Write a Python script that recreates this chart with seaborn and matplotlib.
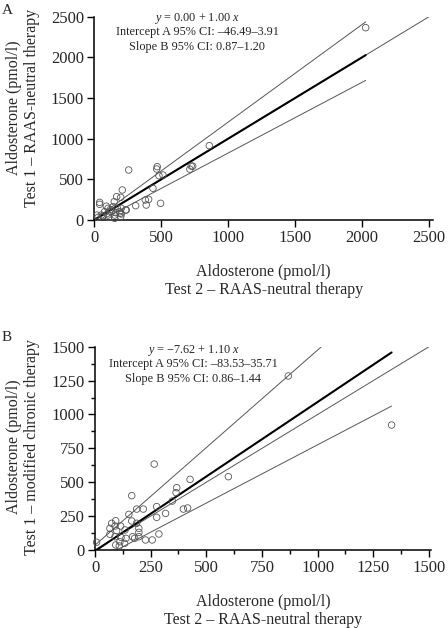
import numpy as np
import pandas as pd
import matplotlib
matplotlib.use("Agg")
import matplotlib.pyplot as plt
import seaborn as sns
from matplotlib.ticker import MultipleLocator

sns.set_theme(style="ticks")
plt.rcParams['font.family'] = ['Liberation Serif', 'DejaVu Serif']
plt.rcParams['mathtext.fontset'] = 'custom'
plt.rcParams['mathtext.rm'] = 'Liberation Serif'
plt.rcParams['mathtext.it'] = 'Liberation Serif:italic'

# ---------------- Panel A data ----------------
a_x = [2027, 859, 724, 714, 735, 470, 466, 483, 513, 257, 438, 209, 40, 40,
       197, 167, 381, 406, 388, 495, 309, 234, 197, 192, 149,
       102, 140, 172, 189, 202, 239, 77, 127, 102, 152, 65, 28, 202, 152, 107, 53,
       20, 90, 120, 160]
a_y = [2365, 914, 664, 625, 662, 656, 627, 545, 553, 615, 390, 369, 217, 193,
       279, 287, 246, 254, 184, 205, 176, 123, 41, 82, 225,
       144, 164, 144, 102, 144, 123, 102, 102, 61, 61, 49, 33, 74, 20, 33, 61,
       60, 170, 130, 90]
a_text = ["$y$ = 0.00 + 1.00 $x$",
          "Intercept A 95% CI: \u201346.49\u20133.91",
          "Slope B 95% CI: 0.87\u20131.20"]
a_reg = (0.00, 1.00)
a_ci_upper = (3.91, 1.20)
a_ci_lower = (-46.49, 0.87)
a_ticks = [0, 500, 1000, 1500, 2000, 2500]

# ---------------- Panel B data ----------------
b_x = [868, 1332, 599, 427, 367, 364, 347, 397, 416, 317, 277, 277, 287, 257, 227,
       266, 165, 217, 187, 152, 165, 187, 197, 197, 197, 169, 139, 93, 75, 67, 90,
       115, 135, 97, 67, 90, 117, 112, 93, 109, 7, 133, 178]
b_y = [1284, 922, 541, 521, 460, 423, 361, 302, 310, 270, 320, 241, 118, 74, 74,
       634, 401, 302, 302, 263, 214, 197, 160, 130, 98, 98, 86, 216, 197, 160, 177,
       177, 148, 143, 116, 98, 93, 61, 37, 30, 57, 49, 86]
b_text = ["$y$ = \u22127.62 + 1.10 $x$",
          "Intercept A 95% CI: \u201383.53\u201335.71",
          "Slope B 95% CI: 0.86\u20131.44"]
b_reg = (-7.62, 1.10)
b_ci_upper = (35.71, 1.44)
b_ci_lower = (-83.53, 0.86)
b_ticks = [0, 250, 500, 750, 1000, 1250, 1500]

xlab = "Aldosterone (pmol/l)\nTest 2 \u2013 RAAS-neutral therapy"
ylab_a = ["Aldosterone (pmol/l)", "Test 1 \u2013 RAAS-neutral therapy"]
ylab_b = ["Aldosterone (pmol/l)", "Test 1 \u2013 modified chronic therapy"]

W, H = 448, 628
fig = plt.figure(figsize=(W / 100, H / 100), dpi=100)

def px_axes(l, r, top, bot):
    return fig.add_axes([l / W, 1 - bot / H, (r - l) / W, (bot - top) / H])

axA = px_axes(94.3, 433, 16.7, 220)
axB = px_axes(95, 431, 346.7, 550)

def draw(ax, xs, ys, reg, up, lo, ticks, minor, xmax_lim, texts, tx, ty, ylab, ly):
    df = pd.DataFrame({"x": xs, "y": ys})
    lim = ticks[-1]
    xmax = max(xs)
    ident = pd.DataFrame({"x": [0, lim], "y": [0, lim]})
    sns.lineplot(data=ident, x="x", y="y", ax=ax, color="#555555", lw=0.7)
    for (a, b) in (up, lo):
        d = pd.DataFrame({"x": [0, xmax], "y": [a, a + b * xmax]})
        sns.lineplot(data=d, x="x", y="y", ax=ax, color="#555555", lw=0.7)
    d = pd.DataFrame({"x": [0, xmax], "y": [reg[0], reg[0] + reg[1] * xmax]})
    sns.lineplot(data=d, x="x", y="y", ax=ax, color="black", lw=1.5)
    sns.scatterplot(data=df, x="x", y="y", ax=ax, marker="o", s=22,
                    facecolor="none", edgecolor="#555555", linewidth=0.6,
                    clip_on=False, zorder=3)
    ax.set_xlim(0, xmax_lim)
    ax.set_ylim(0, lim)
    ax.set_xticks(ticks)
    ax.set_yticks(ticks)
    if minor:
        ax.xaxis.set_minor_locator(MultipleLocator(minor))
        ax.yaxis.set_minor_locator(MultipleLocator(minor))
    ax.tick_params(which="major", direction="out", length=5, width=1.0,
                   labelsize=12, color="black", pad=2.5)
    ax.tick_params(which="minor", direction="out", length=3, width=1.0, color="black")
    for s in ("top", "right"):
        ax.spines[s].set_visible(False)
    for s in ("left", "bottom"):
        ax.spines[s].set_linewidth(1.1)
        ax.spines[s].set_color("black")
    ax.set_xlabel(xlab, fontsize=11.5, linespacing=1.15, labelpad=13)
    ax.set_ylabel("")
    for i, t in enumerate(texts):
        fig.text(tx / W, 1 - (ty + i * 14.5) / H, t, fontsize=8.8,
                 ha="center", va="center")
    for i, t in enumerate(ylab):
        fig.text((13.5 + 18 * i) / W, 1 - ly / H, t, rotation=90, fontsize=11.5,
                 ha="center", va="center")

draw(axA, a_x, a_y, a_reg, a_ci_upper, a_ci_lower, a_ticks, None, 2530,
     a_text, 197, 18, ylab_a, 108)
draw(axB, b_x, b_y, b_reg, b_ci_upper, b_ci_lower, b_ticks, 125, 1509,
     b_text, 193, 350, ylab_b, 447)

fig.text(2 / W, 1 - 10 / H, "A", fontsize=11, ha="left", va="center")
fig.text(2 / W, 1 - 337 / H, "B", fontsize=11, ha="left", va="center")

fig.savefig("out.png", dpi=100)
